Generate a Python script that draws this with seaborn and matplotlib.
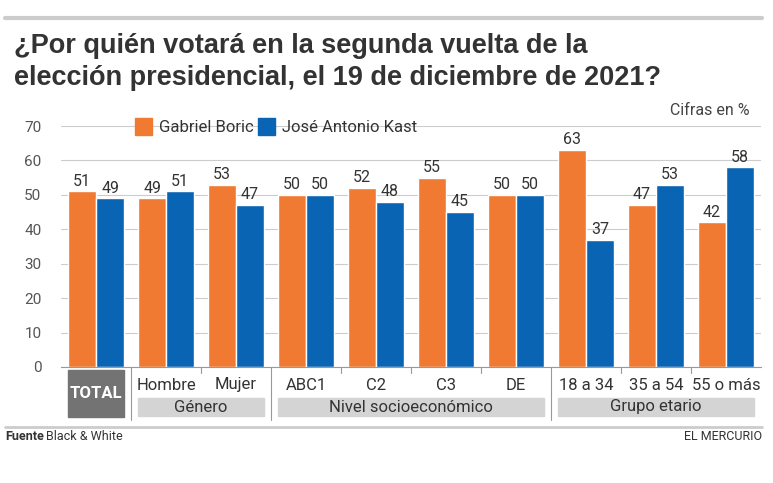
import pandas as pd
import matplotlib.pyplot as plt
import seaborn as sns
from matplotlib.patches import Rectangle
from matplotlib.lines import Line2D

categories = ["TOTAL", "Hombre", "Mujer", "ABC1", "C2", "C3", "DE", "18 a 34", "35 a 54", "55 o más"]
boric = [51, 49, 53, 50, 52, 55, 50, 63, 47, 42]
kast = [49, 51, 47, 50, 48, 45, 50, 37, 53, 58]
groups = [("Género", 1, 2), ("Nivel socioeconómico", 3, 6), ("Grupo etario", 7, 9)]
series = ["Gabriel Boric", "José Antonio Kast"]
colors = ["#F07A32", "#0A64B4"]

df = pd.DataFrame({
    "cat": categories * 2,
    "val": boric + kast,
    "who": [series[0]] * len(categories) + [series[1]] * len(categories),
})

sns.set_style("white")
plt.rcParams["font.family"] = ["Liberation Sans Narrow", "Roboto", "DejaVu Sans"]
fig = plt.figure(figsize=(7.73, 4.83), dpi=100)
W, H = 773, 483
ax = fig.add_axes([61 / W, 1 - 367 / H, 700 / W, 241 / H])
sns.barplot(data=df, x="cat", y="val", hue="who", palette=colors, width=0.8,
            ax=ax, legend=False, saturation=1)
ax.set_ylim(0, 70)
ax.set_xlim(-0.5, 9.5)
ax.set_yticks(range(0, 71, 10))
ax.tick_params(axis="y", length=0, labelsize=11, labelcolor="#555555", pad=14)
ax.set_xticks([])
ax.set_xlabel("")
ax.set_ylabel("")
ax.grid(axis="y", color="#cccccc", lw=0.8)
ax.set_axisbelow(True)
for s in ["top", "right", "left"]:
    ax.spines[s].set_visible(False)
ax.spines["bottom"].set_color("#999999")
for c in ax.containers:
    ax.bar_label(c, fontsize=11.5, color="#333333", padding=2)

def fx(x):
    return (61 + (x + 0.5) * 70) / W

def fy(y):
    return 1 - y / H

# separators and ticks below axis
for b in range(9):
    x = fx(b + 0.5)
    if b in (0, 2, 6):
        fig.add_artist(Line2D([x, x], [fy(367), fy(420)], color="#999999", lw=0.8))
    else:
        fig.add_artist(Line2D([x, x], [fy(367), fy(373)], color="#999999", lw=0.8))

for i, lab in enumerate(categories[1:], start=1):
    fig.text(fx(i), fy(385), lab, ha="center", va="center", fontsize=12, color="#333333")

fig.add_artist(Rectangle((fx(-0.4), fy(417)), fx(0.4) - fx(-0.4), (417 - 370) / H,
                         color="#737373", transform=fig.transFigure))
fig.text(fx(0), fy(393), "TOTAL", ha="center", va="center", fontsize=12,
         color="white", fontweight="bold")
for name, a, b in groups:
    fig.add_artist(Rectangle((fx(a - 0.4), fy(416)), fx(b + 0.4) - fx(a - 0.4), 18 / H,
                             color="#d4d4d4", transform=fig.transFigure))
    fig.text((fx(a - 0.4) + fx(b + 0.4)) / 2, fy(407), name, ha="center", va="center",
             fontsize=12, color="#333333")

# legend
for x0, name, col in [(135, series[0], colors[0]), (258, series[1], colors[1])]:
    fig.add_artist(Rectangle((x0 / W, fy(135)), 17 / W, 17 / H, color=col,
                             transform=fig.transFigure))
    fig.text((x0 + 24) / W, fy(127), name, va="center", fontsize=12, color="#333333")
fig.text(750 / W, fy(110), "Cifras en %", ha="right", va="center", fontsize=11.5, color="#444444")

# title and frame lines
fig.add_artist(Line2D([5 / W, 762 / W], [fy(18), fy(18)], color="#cccccc", lw=3))
fig.text(14 / W, fy(62), "¿Por quién votará en la segunda vuelta de la\nelección presidencial, el 19 de diciembre de 2021?",
         ha="left", va="center", fontsize=19.5, fontweight="bold", color="#333333",
         linespacing=1.3, family=["Liberation Sans", "DejaVu Sans"])
fig.add_artist(Line2D([5 / W, 762 / W], [fy(427), fy(427)], color="#cccccc", lw=2))
fig.text(5 / W, fy(437), "Fuente", ha="left", va="center", fontsize=9, fontweight="bold", color="#333333")
fig.text(46 / W, fy(437), "Black & White", ha="left", va="center", fontsize=9, color="#333333")
fig.text(762 / W, fy(437), "EL MERCURIO", ha="right", va="center", fontsize=9, color="#333333")

fig.savefig("out.png", dpi=100)
